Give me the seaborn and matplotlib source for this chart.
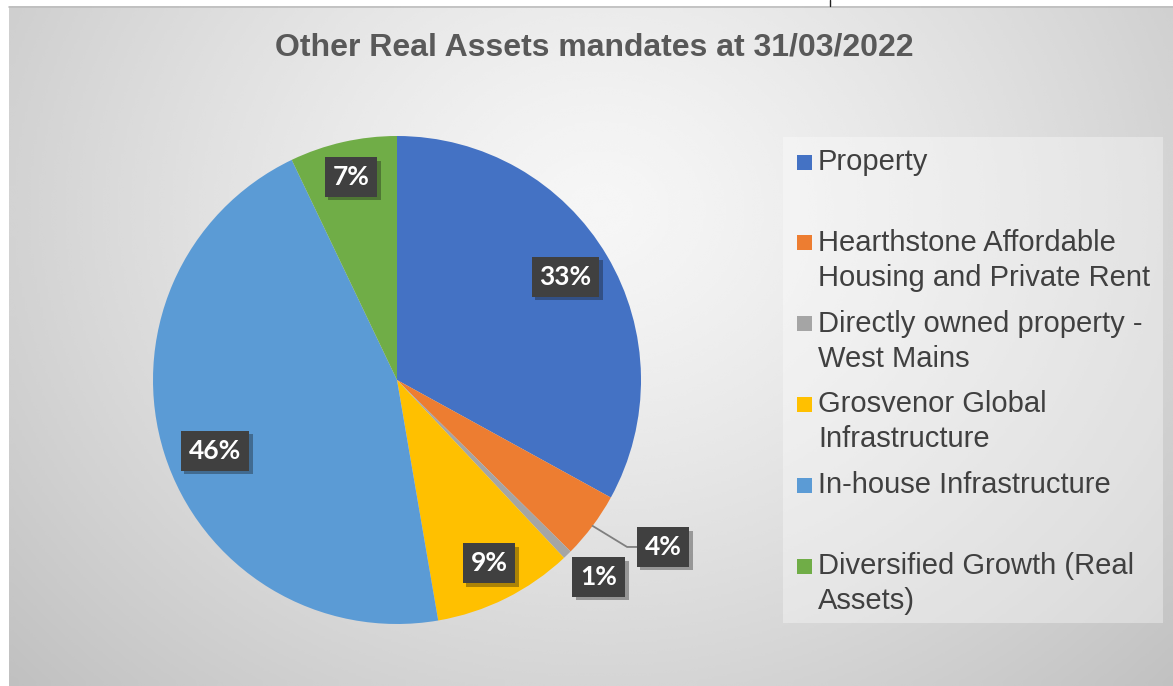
import numpy as np
import matplotlib
matplotlib.use("Agg")
import matplotlib.pyplot as plt
from matplotlib.patches import Rectangle
import matplotlib.patheffects as pe
import seaborn as sns

# ---- data ----
categories = [
    "Property",
    "Hearthstone Affordable\nHousing and Private Rent",
    "Directly owned property -\nWest Mains",
    "Grosvenor Global\nInfrastructure",
    "In-house Infrastructure",
    "Diversified Growth (Real\nAssets)",
]
shares = [33.0, 4.4, 0.6, 9.3, 45.6, 7.1]
pct_labels = ["33%", "4%", "1%", "9%", "46%", "7%"]
slice_colors = ["#4472C4", "#ED7D31", "#A5A5A5", "#FFC000", "#5B9BD5", "#70AD47"]
title = "Other Real Assets mandates at 31/03/2022"

# ---- layout ----
W, H = 1173, 686
sns.set_theme(style="white")
plt.rcParams["font.family"] = ["Liberation Sans", "DejaVu Sans"]

fig = plt.figure(figsize=(W / 100, H / 100), dpi=100)
fig.patch.set_facecolor("white")

def fx(px):
    return px / W

def fy(py):
    return 1 - py / H

# background radial gradient panel
bg = fig.add_axes([fx(9), 0, 1 - fx(9), (H - 6) / H])
bg.set_axis_off()
gx = np.linspace(9, W, 400)
gy = np.linspace(6, H, 240)
GX, GY = np.meshgrid(gx, gy)
d = np.sqrt(((GX - 600) / 820) ** 2 + ((GY - 210) / 700) ** 2)
d = np.clip(d, 0, 1)
light, dark = 0.965, 0.75
img = light - (light - dark) * d ** 1.3
bg.imshow(img, cmap="gray", vmin=0, vmax=1, aspect="auto",
          extent=[0, 1, 0, 1], interpolation="bicubic")
bg.set_xlim(0, 1)
bg.set_ylim(0, 1)
# top border line of the frame
fig.add_artist(plt.Line2D([fx(9), 1], [fy(6.5), fy(6.5)], color="#bdbdbd", lw=1.2))
fig.add_artist(plt.Line2D([fx(830), fx(830)], [fy(0), fy(6)], color="#202020", lw=1))

# pie axes: center (397, 380), radius 244 px
cx, cy, R = 397, 380, 244
ax = fig.add_axes([fx(cx - R), fy(cy + R), 2 * R / W, 2 * R / H])
palette = sns.color_palette(slice_colors)
wedges, _ = ax.pie(shares, colors=palette, startangle=90, counterclock=False,
                   radius=1, wedgeprops=dict(linewidth=0))
ax.set_xlim(-1, 1)
ax.set_ylim(-1, 1)
ax.set_aspect("equal")
ax.set_axis_off()

# data label placement (radius, angle offset in degrees from wedge middle)
label_place = [(0.81, 0.9), (1.287, 4.6), (1.156, 1.4), (0.84, 0.2), (0.80, 3.6), (0.853, 0.0)]
for i, (w, lab) in enumerate(zip(wedges, pct_labels)):
    mid_deg = (w.theta1 + w.theta2) / 2
    r, off = label_place[i]
    a = np.deg2rad(mid_deg + off)
    tx, ty = r * np.cos(a), r * np.sin(a)
    if i == 1:
        m = np.deg2rad(mid_deg)
        ax.plot([np.cos(m), 0.943, tx - 0.1], [np.sin(m), ty, ty], color="#7f7f7f",
                lw=1.3, clip_on=False)
    t = ax.text(tx, ty, lab, ha="center", va="center", color="white",
                fontsize=19, fontweight="bold", family=["Lato", "DejaVu Sans"],
                bbox=dict(boxstyle="square,pad=0.3", fc="#404040", ec="none"),
                zorder=5, clip_on=False)
    t.get_bbox_patch().set_path_effects(
        [pe.SimplePatchShadow(offset=(2.5, -2.5), alpha=0.35), pe.Normal()])

# title
fig.text(fx(594), fy(47), title, ha="center", va="center", fontsize=23,
         fontweight="bold", color="#595959")

# legend panel
fig.add_artist(Rectangle((fx(783), fy(623)), fx(1163) - fx(783), fy(137) - fy(623),
                         transform=fig.transFigure, facecolor="white", alpha=0.35,
                         edgecolor="none"))
slot0, slot_step, line_step = 162, 80.8, 35
for i, (lab, col) in enumerate(zip(categories, slice_colors)):
    y0 = slot0 + i * slot_step
    fig.add_artist(Rectangle((fx(797), fy(y0 + 7.5)), 15 / W, 15 / H,
                             transform=fig.transFigure, facecolor=col,
                             edgecolor="none"))
    for j, line in enumerate(lab.split("\n")):
        fig.text(fx(818), fy(y0 + j * line_step), line, ha="left",
                 va="center", fontsize=21, color="#404040")

fig.savefig("out.png", dpi=100)
